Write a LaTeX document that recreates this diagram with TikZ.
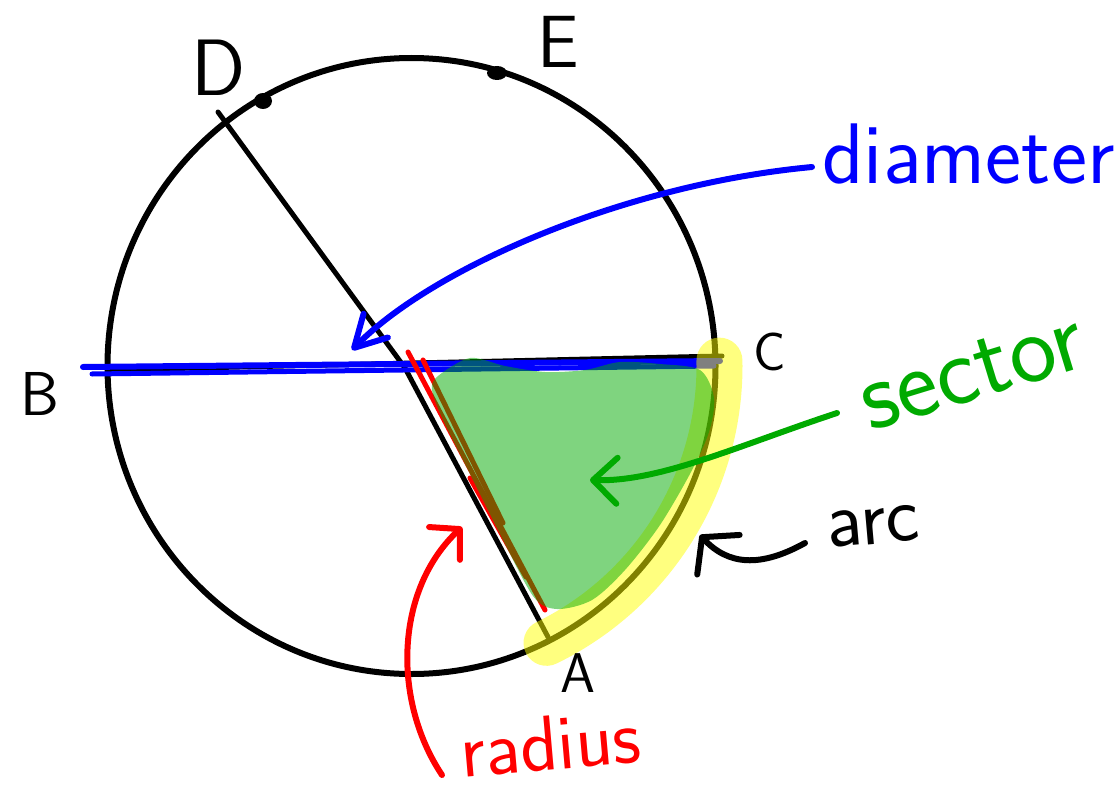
\documentclass[tikz,border=0pt]{standalone}
\usepackage{fontspec}
\usetikzlibrary{arrows.meta}

\definecolor{pblue}{RGB}{0,0,255}
\definecolor{pred}{RGB}{255,0,0}
\definecolor{pgreen}{RGB}{0,170,0}
\definecolor{pyellow}{RGB}{255,255,0}

\tikzset{
  pen/.style={line width=6pt,line cap=round,line join=round},
  hand/.style={font=\sffamily\fontsize{#1}{#1}\selectfont,inner sep=0pt},
  barb/.style 2 args={-{Straight Barb[round,length=#1pt,width=#2pt]}}
}

\begin{document}
\begin{tikzpicture}[x=1pt,y=-1pt]
\useasboundingbox (0,0) rectangle (1114,792);

% points of the circle
\coordinate (M) at (411.5,366);
\coordinate (O) at (405,368);
\coordinate (A) at (548,637);
\coordinate (B) at (108,370);
\coordinate (C) at (722,356);
\coordinate (D) at (218,112);
\coordinate (Dp) at (263,101);
\coordinate (Ep) at (497,73);

% circle and black lines
\draw[pen] (M) ellipse [x radius=304,y radius=308];
\draw[pen,line width=5pt] (D) -- (O) -- (A);
\draw[pen,line width=5pt] (B) -- (C);
\fill (Dp) ellipse [x radius=9,y radius=8];
\fill (Ep) ellipse [x radius=10,y radius=7];

% diameter in blue
\draw[pen,pblue] (83,367) -- (720,361);
\draw[pen,pblue,line width=5pt] (92,374) -- (714,366);

% radius in red
\draw[pen,pred,line width=5pt] (408,352) -- (545,610);
\draw[pen,pred,line width=5pt] (423,360) -- (503,523);
\draw[pen,pred,line width=5pt] (470,478) -- (526,577);

% arc highlight
\draw[pyellow,opacity=.5,line width=46pt,line cap=round]
  (M) ++(-1:308) arc[start angle=-1,end angle=64,radius=308];

% sector
\fill[pgreen,opacity=.5] plot[smooth cycle,tension=.5] coordinates {
  (438,376) (470,358) (505,366) (545,372) (585,370) (620,362) (660,364)
  (700,370) (714,398) (709,432) (691,472) (660,525) (625,570) (592,600)
  (557,609) (533,596) (498,530) (468,470) (443,420) (432,390)};

% labels of the points
\node[hand=62] (lB) at (40,394) {B};
\node[hand=54] (lC) at (770,352) {C};
\node[hand=80] (lD) at (219,68) {D};
\node[hand=74] (lE) at (558,42) {E};
\node[hand=56] (lA) at (578,673) {A};

% names and arrows
\node[hand=86,pblue,anchor=base west] (ldiam) at (822,183) {diameter};
\node[hand=100,pgreen,anchor=base west,rotate=17] (lsect) at (870,432) {sector};
\node[hand=80,anchor=base west,rotate=5] (larc) at (828,548) {arc};
\node[hand=78,pred,anchor=base west,rotate=5] (lrad) at (462,778) {radius};

\coordinate (diamS) at (812,167);
\coordinate (diamT) at (352,350);
\coordinate (sectS) at (837,413);
\coordinate (sectT) at (590,480);
\coordinate (arcS) at (805,543);
\coordinate (arcT) at (700,535);
\coordinate (radS) at (442,775);
\coordinate (radT) at (462,527);

\draw[pen,pblue,barb={31}{34}] (diamS) .. controls (620,185) and (430,270) .. (diamT);
\draw[pen,pgreen,barb={24}{46}] (sectS) .. controls (740,445) and (660,482) .. (sectT);
\draw[pen,barb={24}{58}] (arcS) .. controls (760,568) and (728,565) .. (arcT);
\draw[pen,pred,barb={21}{45}] (radS) .. controls (392,700) and (395,590) .. (radT);
\end{tikzpicture}
\end{document}
